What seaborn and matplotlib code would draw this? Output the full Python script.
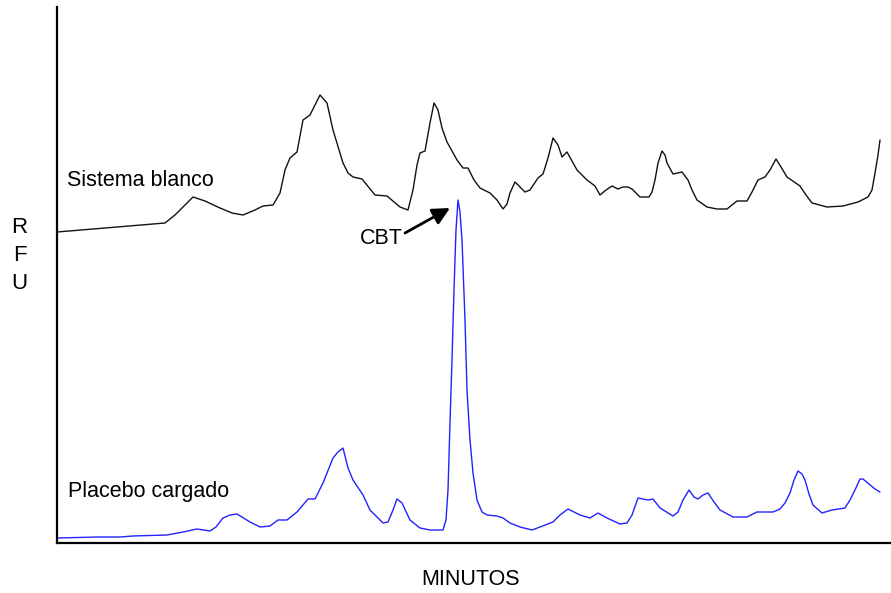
import matplotlib
matplotlib.use("Agg")
import matplotlib.pyplot as plt
import seaborn as sns
import pandas as pd

# Sistema blanco (black trace)
blanco_min = [0, 108, 118, 128, 136, 148, 163, 175, 186, 198, 206, 216, 223, 228, 233, 240, 246, 253, 259, 263,
              270, 276, 286, 291, 296, 305, 318, 330, 343, 351, 356, 360, 363, 368, 373, 377, 381, 385, 390, 400,
              406, 411, 417, 423, 433, 440, 446, 450, 453, 458, 463, 468, 473, 481, 486, 491, 496, 501, 505, 510,
              515, 520, 530, 538, 543, 549, 555, 561, 566, 571, 575, 583, 592, 595, 598, 601, 605, 608, 610, 616,
              625, 631, 635, 640, 650, 660, 670, 680, 690, 695, 701, 708, 713, 719, 724, 730, 743, 749, 755, 770,
              786, 801, 811, 815, 818, 821, 823]
blanco_rfu = [311, 320, 328, 338, 346, 342, 335, 330, 328, 333, 337, 338, 350, 373, 385, 391, 423, 428, 440, 448,
              440, 413, 380, 370, 366, 364, 348, 347, 336, 333, 353, 378, 390, 392, 420, 440, 433, 415, 401, 383,
              375, 375, 363, 355, 350, 343, 334, 339, 350, 361, 356, 351, 353, 365, 369, 385, 405, 398, 386, 391,
              382, 373, 363, 357, 348, 353, 357, 354, 356, 356, 354, 346, 346, 351, 363, 380, 392, 388, 380, 369,
              371, 363, 353, 343, 336, 334, 334, 342, 342, 351, 363, 366, 373, 384, 376, 366, 357, 348, 340, 336,
              337, 341, 346, 353, 370, 388, 403]

# Placebo cargado (blue trace)
placebo_min = [0, 41, 63, 76, 110, 126, 140, 153, 159, 166, 173, 180, 193, 203, 213, 221, 230, 240, 251, 258,
               266, 276, 281, 286, 291, 296, 306, 313, 326, 331, 336, 340, 345, 353, 363, 373, 386, 389, 391, 393,
               395, 397, 399, 401, 403, 405, 408, 410, 413, 416, 420, 425, 430, 440, 446, 453, 463, 475, 483, 496,
               503, 511, 523, 533, 541, 550, 563, 570, 575, 581, 586, 591, 596, 603, 616, 621, 626, 632, 637, 641,
               646, 651, 657, 663, 676, 690, 700, 716, 723, 728, 733, 737, 741, 745, 748, 752, 756, 765, 775, 788,
               793, 798, 803, 806, 812, 818, 823]
placebo_rfu = [5, 6, 6, 7, 8, 11, 14, 12, 16, 25, 28, 29, 21, 16, 17, 23, 23, 31, 44, 44,
               60, 85, 91, 95, 75, 63, 48, 33, 20, 21, 33, 44, 40, 23, 15, 13, 13, 23, 53, 120,
               183, 253, 313, 343, 331, 303, 223, 153, 103, 70, 43, 31, 28, 27, 25, 20, 16, 13, 16, 21,
               28, 34, 28, 25, 30, 25, 19, 20, 28, 45, 44, 43, 44, 35, 27, 31, 43, 53, 46, 44,
               48, 50, 41, 33, 26, 26, 31, 31, 34, 40, 50, 63, 72, 69, 63, 49, 38, 30, 33, 35,
               43, 53, 64, 64, 59, 54, 51]

series_labels = ["Sistema blanco", "Placebo cargado"]
peak_label = "CBT"
x_title = "MINUTOS"
y_title = "R\nF\nU"

df_b = pd.DataFrame({"min": blanco_min, "rfu": blanco_rfu})
df_p = pd.DataFrame({"min": placebo_min, "rfu": placebo_rfu})

sns.set_style("white")
plt.rcParams["font.family"] = ["Liberation Sans", "DejaVu Sans"]

fig = plt.figure(figsize=(8.91, 5.93), dpi=100)
ax = fig.add_axes([57 / 891, 50 / 593, 833 / 891, 536 / 593])

sns.lineplot(data=df_b, x="min", y="rfu", ax=ax, color="#111111", lw=1.0, estimator=None, sort=False)
sns.lineplot(data=df_p, x="min", y="rfu", ax=ax, color="#2222ff", lw=1.0, estimator=None, sort=False)
for ln in ax.get_lines():
    ln.set_solid_joinstyle("round")

ax.set_xlim(0, 833)
ax.set_ylim(0, 536)
ax.set_xticks([])
ax.set_yticks([])
for s in ["top", "right"]:
    ax.spines[s].set_visible(False)
for s in ["left", "bottom"]:
    ax.spines[s].set_color("black")
    ax.spines[s].set_linewidth(1.6)

fs = 15.5
ax.text(10, 357, series_labels[0], fontsize=fs, va="baseline", ha="left", color="black")
ax.text(11, 46, series_labels[1], fontsize=fs, va="baseline", ha="left", color="black")
ax.text(346, 299, peak_label, fontsize=fs, va="baseline", ha="right", color="black")
ax.annotate("", xy=(393, 335), xytext=(348, 310),
            arrowprops=dict(arrowstyle="-|>", color="black", lw=2, mutation_scale=26,
                            shrinkA=0, shrinkB=0))

ax.set_xlabel(x_title, fontsize=fs, color="black", va="center")
ax.xaxis.set_label_coords(0.496, -0.069)
ax.set_ylabel(y_title, fontsize=16, rotation=0, ha="center", va="center", linespacing=1.45, color="black")
ax.yaxis.set_label_coords(-0.045, 0.536)

fig.savefig("out.png", dpi=100)
